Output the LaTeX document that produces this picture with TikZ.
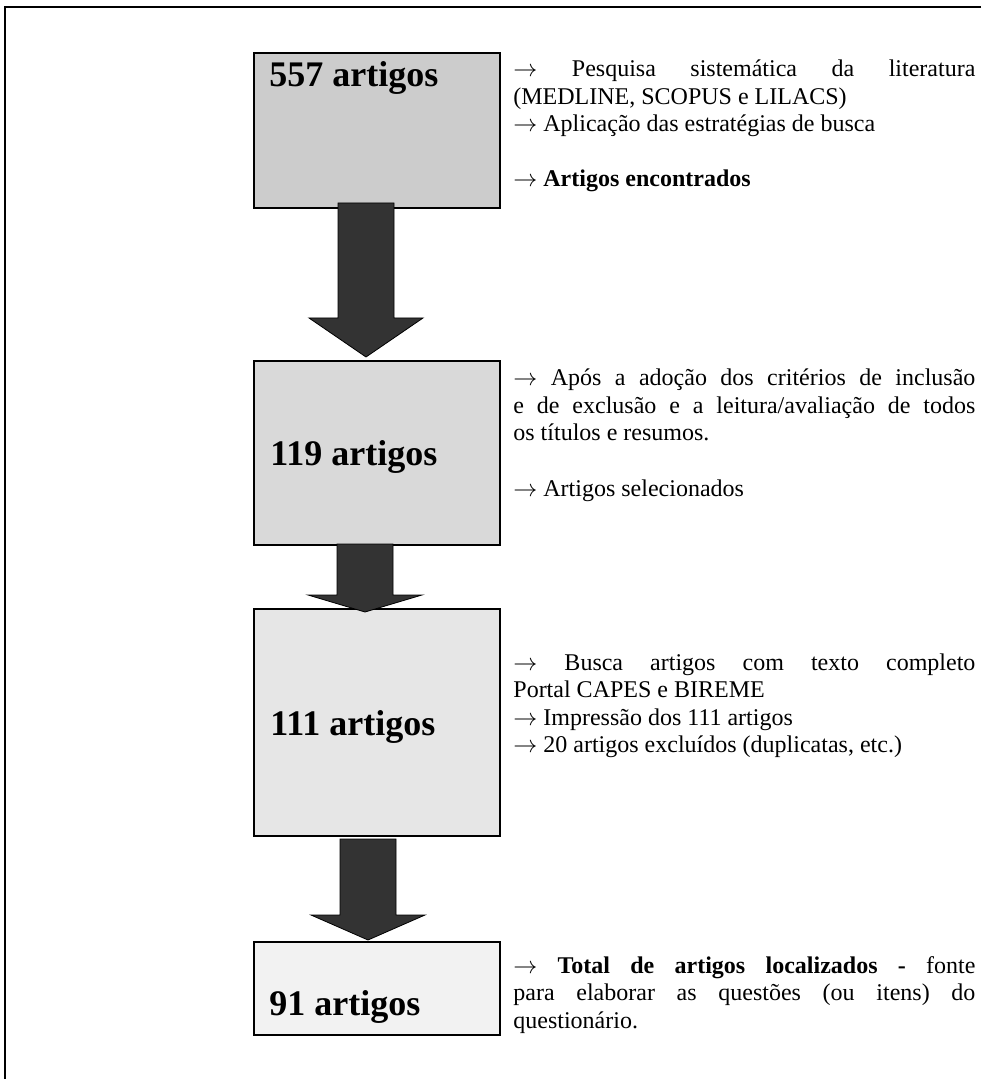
\documentclass[tikz,border=0pt]{standalone}
\usepackage{fontspec}
\setmainfont{Liberation Serif}
\usetikzlibrary{calc}
\definecolor{fillA}{HTML}{CCCCCC}
\definecolor{fillB}{HTML}{D9D9D9}
\definecolor{fillC}{HTML}{E6E6E6}
\definecolor{fillD}{HTML}{F2F2F2}
\definecolor{arrowgray}{HTML}{333333}
\hbadness=10000
\newcommand{\ra}{$\rightarrow$}
\newcommand{\flowarrow}[3]{\draw[bigarrow] ($(#1)+(-28,0)$) -- ($(#1)+(28,0)$) -- ($(#2)+(28,-#3)$) -- ($(#2)+(57,-#3)$) -- (#2) -- ($(#2)+(-57,-#3)$) -- ($(#2)+(-28,-#3)$) -- cycle;}
\begin{document}
\begin{tikzpicture}[x=0.5pt,y=-0.5pt,
  countbox/.style={draw=black,line width=1pt,minimum width=123pt,inner sep=0pt,anchor=north west},
  countlabel/.style={anchor=base west,inner sep=0pt,font=\fontsize{18}{21}\selectfont\bfseries},
  notes/.style={anchor=base west,inner sep=0pt,text width=231pt,align=justify,
    font=\fontsize{12}{13.75}\selectfont},
  bigarrow/.style={draw=black,line width=0.4pt,fill=arrowgray}]
\useasboundingbox (0,0) rectangle (981,1079);
\draw[line width=1pt] (981,7) -- (5,7) -- (5,1079);

\node[countbox,fill=fillA,minimum height=77.5pt] (b1) at (253,52) {};
\node[countbox,fill=fillB,minimum height=92pt] (b2) at (253,360) {};
\node[countbox,fill=fillC,minimum height=113.5pt] (b3) at (253,608) {};
\node[countbox,fill=fillD,minimum height=46.5pt] (b4) at (253,941) {};

\node[countlabel] (n557) at (269,87) {557 artigos};
\node[countlabel] (n119) at (270,465) {119 artigos};
\node[countlabel] (n111) at (270,735) {111 artigos};
\node[countlabel] (n91) at (269,1015) {91 artigos};

\node[notes] (t1) at (513,77) {\ra{} Pesquisa sistemática da literatura\linebreak (MEDLINE, SCOPUS e LILACS)\\
  \ra{} Aplicação das estratégias de busca\\[13.75pt]
  \ra{} \textbf{Artigos encontrados}};
\node[notes] (t2) at (513,386) {\ra{} Após a adoção dos critérios de inclusão\linebreak e de exclusão e a leitura/avaliação de todos\linebreak os títulos e resumos.\\[13.75pt]
  \ra{} Artigos selecionados};
\node[notes] (t3) at (513,670) {\ra{} Busca artigos com texto completo\linebreak Portal CAPES e BIREME\\
  \ra{} Impressão dos 111 artigos\\
  \ra{} 20 artigos excluídos (duplicatas, etc.)};
\node[notes] (t4) at (513,973) {\ra{} \textbf{Total de artigos localizados -} fonte\linebreak para elaborar as questões (ou itens) do\linebreak questionário.};

\coordinate (s1) at (366,203);
\coordinate (e1) at (366,357);
\coordinate (s2) at (365,544);
\coordinate (e2) at (365,612);
\coordinate (s3) at (368,839);
\coordinate (e3) at (368,940);
\flowarrow{s1}{e1}{39}
\flowarrow{s2}{e2}{17}
\flowarrow{s3}{e3}{25}
\end{tikzpicture}
\end{document}
